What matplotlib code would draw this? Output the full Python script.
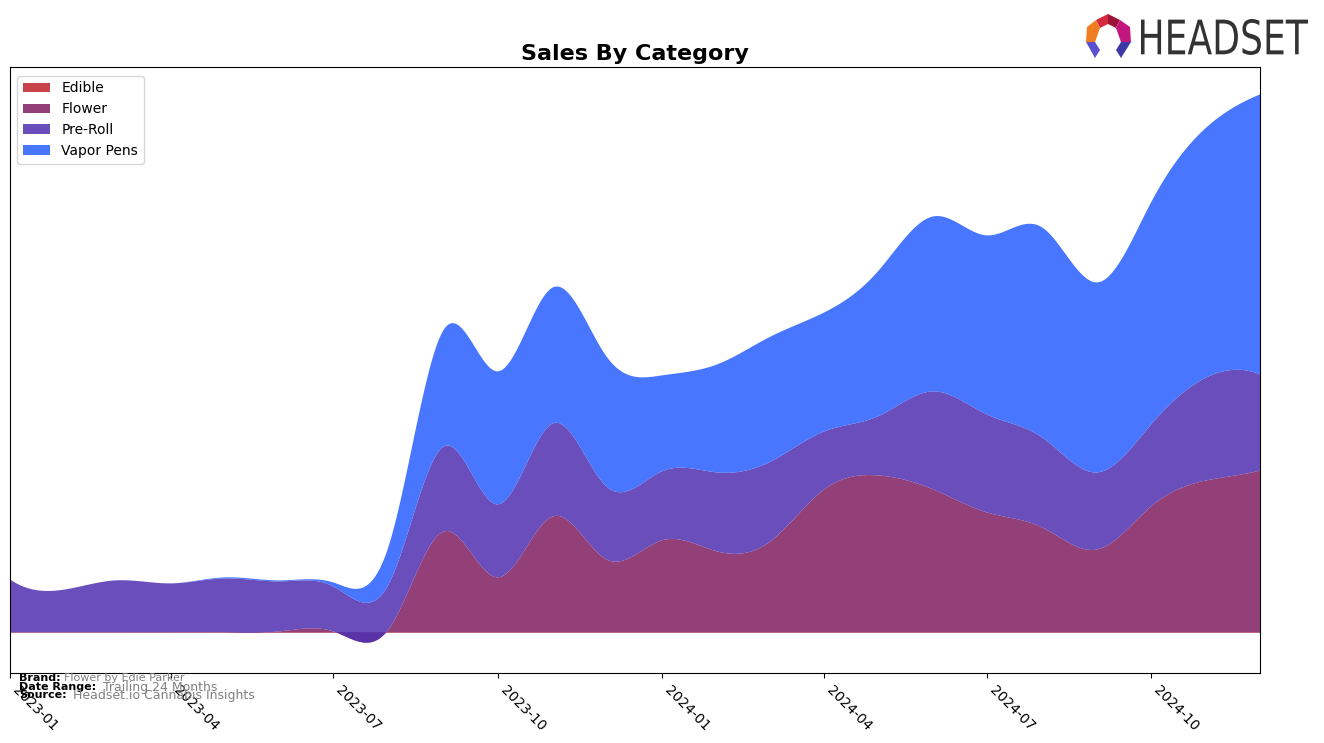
import numpy as np
import pandas as pd
import matplotlib
matplotlib.use("Agg")
import matplotlib.pyplot as plt
import matplotlib.dates as mdates
from matplotlib.patches import Polygon, PathPatch
from matplotlib.textpath import TextPath
from matplotlib.font_manager import FontProperties
from matplotlib.transforms import Affine2D

# ---------------- data ----------------
months = pd.date_range("2023-01-01", periods=24, freq="MS")
categories = ["Edible", "Flower", "Pre-Roll", "Vapor Pens"]
edible = [0.6, 0.6, 0.6, 0.6, 0.6, 0.6, 0.6, 0.6, 0.6, 0.6, 0.6, 0.6,
          0.6, 0.6, 0.6, 0.6, 0.6, 0.6, 0.6, 0.6, 0.6, 0.6, 0.6, 0.6]
flower = [0, 0, 0, 0, 0, 1, 1, 3, 101, 55, 116, 73,
          92, 81, 90, 143, 157, 143, 120, 105, 83, 126, 152, 162]
preroll = [53, 43, 52, 49, 54, 50, 45, 45, 85, 73, 93, 73,
           69, 79, 80, 58, 59, 98, 98, 90, 77, 82, 103, 96]
vapor = [0, 0, 0, 0, 1, 1, 4, 38, 117, 133, 136, 130,
         96, 108, 125, 119, 145, 175, 179, 210, 190, 222, 250, 280]
colors = ["#c0232a", "#821e60", "#5030b1", "#285eff"]
tick_months = [1, 4, 7, 10]


def spline(x, y, xs):
    x = np.asarray(x, float)
    y = np.asarray(y, float)
    n = len(x)
    h = np.diff(x)
    A = np.zeros((n, n))
    b = np.zeros(n)
    for i in range(1, n - 1):
        A[i, i - 1] = h[i - 1]
        A[i, i] = 2 * (h[i - 1] + h[i])
        A[i, i + 1] = h[i]
        b[i] = 6 * ((y[i + 1] - y[i]) / h[i] - (y[i] - y[i - 1]) / h[i - 1])
    A[0, 0] = -h[1]
    A[0, 1] = h[0] + h[1]
    A[0, 2] = -h[0]
    A[n - 1, n - 3] = -h[n - 2]
    A[n - 1, n - 2] = h[n - 2] + h[n - 3]
    A[n - 1, n - 1] = -h[n - 3]
    M = np.linalg.solve(A, b)
    idx = np.clip(np.searchsorted(x, xs) - 1, 0, n - 2)
    x0, x1 = x[idx], x[idx + 1]
    hh = x1 - x0
    out = (M[idx] * (x1 - xs) ** 3 / (6 * hh) + M[idx + 1] * (xs - x0) ** 3 / (6 * hh)
           + (y[idx] / hh - M[idx] * hh / 6) * (x1 - xs)
           + (y[idx + 1] / hh - M[idx + 1] * hh / 6) * (xs - x0))
    return out


xnum = mdates.date2num(months.to_pydatetime())
xs = np.linspace(xnum[0], xnum[-1], 600)
series = [edible, flower, preroll, vapor]
smooth = [spline(xnum, s, xs) for s in series]

fig = plt.figure(figsize=(13.24, 7.43), dpi=100)
ax = fig.add_axes([10 / 1324, 1 - 673 / 743, 1250 / 1324, 606 / 743])
ax.stackplot(xs, *smooth, labels=categories, colors=colors, alpha=0.85, linewidth=0)

ax.set_xlim(xnum[0], xnum[-1])
ax.set_ylim(-40, 566)
ax.set_yticks([])
ax.xaxis.set_major_locator(mdates.MonthLocator(bymonth=tick_months))
ax.xaxis.set_major_formatter(mdates.DateFormatter("%Y-%m"))
for lab in ax.get_xticklabels():
    lab.set_rotation(-45)
    lab.set_ha("left")
    lab.set_fontsize(10)

ax.set_title("Sales By Category", fontsize=16, fontweight="bold", pad=5)
ax.legend(loc="upper left", fontsize=10, bbox_to_anchor=(0.0, 0.997))

# footer
fig.text(19 / 1324, 1 - 678 / 743, "Brand:", fontsize=8, fontweight="bold", va="center")
fig.text(64 / 1324, 1 - 678 / 743, "Flower by Edie Parker", fontsize=8, color="gray", va="center")
fig.text(19 / 1324, 1 - 687 / 743, "Date Range:", fontsize=8, fontweight="bold", va="center")
fig.text(103 / 1324, 1 - 687 / 743, "Trailing 24 Months", fontsize=9, color="gray", va="center")
fig.text(19 / 1324, 1 - 695 / 743, "Source:", fontsize=8, fontweight="bold", va="center")
fig.text(73 / 1324, 1 - 695 / 743, "Headset.io Cannabis Insights", fontsize=9, color="gray", va="center")

# logo
W, H = 1324, 743


def P(px, py):
    return (px / W, 1 - py / H)


segs = [
    ([(1096, 20), (1108, 14), (1108, 24), (1100, 28)], "#d42a3c"),
    ([(1108, 14), (1120, 20), (1116, 28), (1108, 24)], "#9e1338"),
    ([(1120, 20), (1130, 27), (1131, 42), (1121, 42), (1116, 28)], "#c2177e"),
    ([(1096, 20), (1100, 28), (1095, 42), (1086, 42), (1087, 27)], "#f07d22"),
    ([(1086, 42), (1095, 42), (1100, 50), (1095, 58)], "#5a50d0"),
    ([(1121, 42), (1131, 42), (1121, 58), (1116, 50)], "#3d3aa8"),
]
for pts, col in segs:
    fig.patches.append(Polygon([P(*p) for p in pts], closed=True, transform=fig.transFigure,
                               facecolor=col, edgecolor="none"))

tp = TextPath((0, 0), "HEADSET", size=10, prop=FontProperties(family="DejaVu Sans"))
bb = tp.get_extents()
x0p, x1p, ytop, ybot = 1141, 1308, 19, 55
sx = (x1p - x0p) / bb.width
sy = (ybot - ytop) / bb.height
tr = Affine2D().translate(-bb.x0, -bb.y0).scale(sx / W, sy / H).translate(x0p / W, 1 - ybot / H)
fig.patches.append(PathPatch(tp, transform=tr + fig.transFigure, facecolor="#333333", edgecolor="none"))

fig.savefig("out.png", dpi=100)
